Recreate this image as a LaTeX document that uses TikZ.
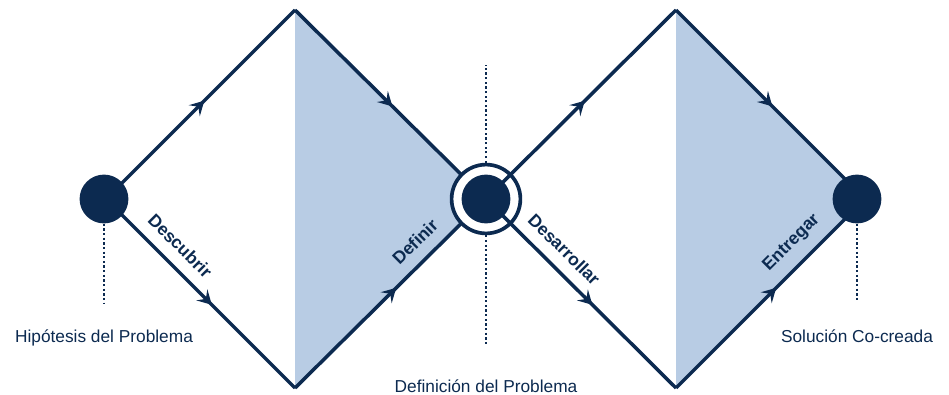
\documentclass[tikz,border=0pt]{standalone}
\usepackage{fontspec}
\setmainfont{Liberation Sans}
\usetikzlibrary{arrows.meta,decorations.markings}

\definecolor{navy}{HTML}{0C2A50}
\definecolor{paleblue}{HTML}{B8CCE4}

\tikzset{
  flow/.style={draw=navy, line width=2.5pt, postaction={decorate},
    decoration={markings, mark=at position #1 with {\arrow{Stealth[length=10pt, width=11pt, inset=4pt]}}}},
  hubdot/.style={circle, fill=navy, minimum size=1.22cm, inner sep=0pt},
  hubring/.style={circle, draw=navy, fill=white, line width=2.6pt, minimum size=1.72cm, inner sep=0pt},
  guide/.style={draw=navy, line width=1.6pt, dash pattern=on 1.6pt off 1.7pt},
  phase/.style={sloped, above=8pt, inner sep=0pt, text=navy, font=\bfseries\fontsize{12.5}{14}\selectfont},
  stage/.style={anchor=base, text=navy, font=\fontsize{12.3}{14}\selectfont}
}

\begin{document}
\begin{tikzpicture}[x=0.025cm, y=-0.025cm]
  \useasboundingbox (0,0) rectangle (949,395);

  % corners of the two diamonds
  \coordinate (leftA) at (106,199);
  \coordinate (topA) at (295,10);
  \coordinate (botA) at (295,388);
  \coordinate (joint) at (486,199);
  \coordinate (topB) at (676,10);
  \coordinate (botB) at (676,388);
  \coordinate (rightB) at (865,199);

  \fill[paleblue] (topA) -- (joint) -- (botA) -- cycle;
  \fill[paleblue] (topB) -- (rightB) -- (botB) -- cycle;

  \draw[flow=0.52] (leftA) -- (topA);
  \draw[flow=0.56] (leftA) -- node[phase, pos=0.32] {Descubrir} (botA);
  \draw[flow=0.51] (topA) -- (joint);
  \draw[flow=0.53] (botA) -- node[phase, pos=0.7] {Definir} (joint);

  \node[hubring] (mid) at (joint) {};

  \draw[flow=0.52] (joint) -- (topB);
  \draw[flow=0.56] (joint) -- node[phase, pos=0.34] {Desarrollar} (botB);
  \draw[flow=0.51] (topB) -- (rightB);
  \draw[flow=0.53] (botB) -- node[phase, pos=0.69] {Entregar} (rightB);

  \node[hubdot] (hypo) at (104,199) {};
  \node[hubdot] (core) at (joint) {};
  \node[hubdot] (sol) at (857,199) {};

  % dotted guides
  \coordinate (hypoEnd) at (104,303);
  \coordinate (probTop) at (486,65);
  \coordinate (probEnd) at (486,345);
  \coordinate (solEnd) at (857,300);
  \draw[guide] (hypo) -- (hypoEnd);
  \draw[guide] (mid) -- (probTop);
  \draw[guide] (mid) -- (probEnd);
  \draw[guide] (sol) -- (solEnd);

  \node[stage] (hypoText) at (104,342) {Hipótesis del Problema};
  \node[stage] (probText) at (486,392) {Definición del Problema};
  \node[stage] (solText) at (857,342) {Solución Co-creada};
\end{tikzpicture}
\end{document}
